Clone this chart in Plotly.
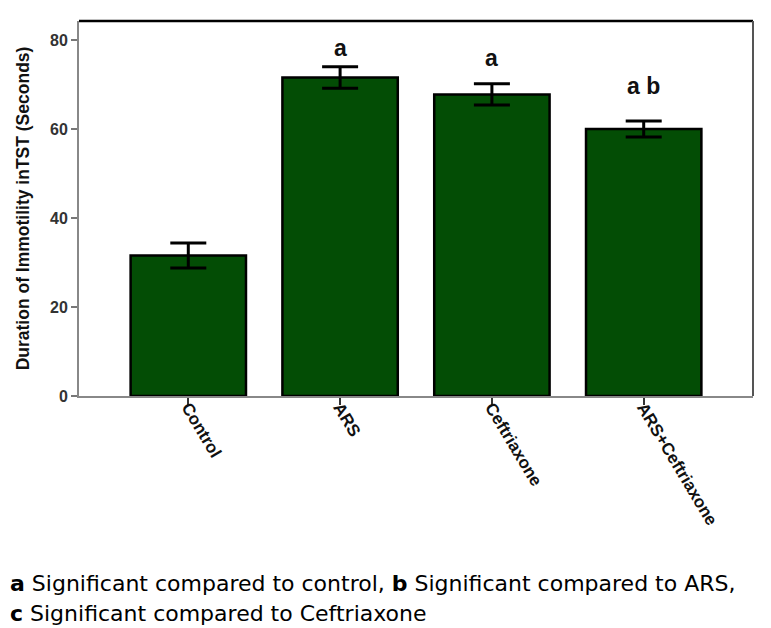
import plotly.graph_objects as go

categories = ["Control", "ARS", "Ceftriaxone", "ARS+Ceftriaxone"]
means = [31.6, 71.6, 67.8, 60.0]
sem = [2.8, 2.4, 2.4, 1.8]
sig_labels = ["", "a", "a", "a b"]
label_shift = [0, 12, 19, 28]  # pixel gap above error bar

footnote_1 = "<b>a</b> Significant compared to control, <b>b</b> Significant compared to ARS,"
footnote_2 = "<b>c</b> Significant compared to Ceftriaxone"

green = "#034d05"
sans = "Liberation Sans, Arial, sans-serif"

fig = go.Figure()
fig.add_trace(go.Bar(
    x=categories, y=means,
    width=0.76,
    marker=dict(color=green, line=dict(color="black", width=2.5)),
    error_y=dict(type="data", array=sem, visible=True, color="black",
                 thickness=3, width=18),
    showlegend=False,
))

for c, m, s, lab, sh in zip(categories, means, sem, sig_labels, label_shift):
    if lab:
        fig.add_annotation(x=c, y=m + s, text=f"<b>{lab}</b>", showarrow=False,
                           yanchor="bottom", yshift=sh - 8,
                           font=dict(family=sans, size=23, color="#111"))

fig.add_annotation(xref="paper", yref="paper", x=-0.106, y=-0.5, xanchor="left",
                   yanchor="middle", text=footnote_1, showarrow=False,
                   font=dict(family="DejaVu Sans", size=22, color="black"))
fig.add_annotation(xref="paper", yref="paper", x=-0.106, y=-0.58, xanchor="left",
                   yanchor="middle", text=footnote_2, showarrow=False,
                   font=dict(family="DejaVu Sans", size=22, color="black"))

# frame top and right
fig.add_shape(type="line", xref="paper", yref="paper", x0=0, x1=1, y0=1, y1=1,
              line=dict(color="black", width=2.5))
fig.add_shape(type="line", xref="paper", yref="paper", x0=1, x1=1, y0=0, y1=1,
              line=dict(color="#555", width=2))

fig.update_layout(
    width=771, height=628,
    margin=dict(l=71, r=26, t=13, b=240),
    paper_bgcolor="white", plot_bgcolor="white",
    xaxis=dict(range=[-0.72, 3.72], showline=True, linecolor="#888", linewidth=2,
               ticks="outside", ticklen=7, tickwidth=2, tickcolor="#333",
               tickangle=59, ticklabelstandoff=-14,
               tickfont=dict(family=sans, size=17, color="#111", weight="bold"),
               showgrid=False),
    yaxis=dict(range=[0, 84.3], tickvals=[0, 20, 40, 60, 80], showline=True,
               linecolor="#888", linewidth=2, ticks="outside", ticklen=6,
               tickwidth=1.5, tickcolor="#777", showgrid=False, zeroline=False,
               tickfont=dict(family=sans, size=16, color="#333", weight="bold"),
               title=dict(text="Duration of Immotility inTST (Seconds)", standoff=16,
                          font=dict(family=sans, size=17.5, color="#111", weight="bold"))),
)

fig.write_html("out.html")
